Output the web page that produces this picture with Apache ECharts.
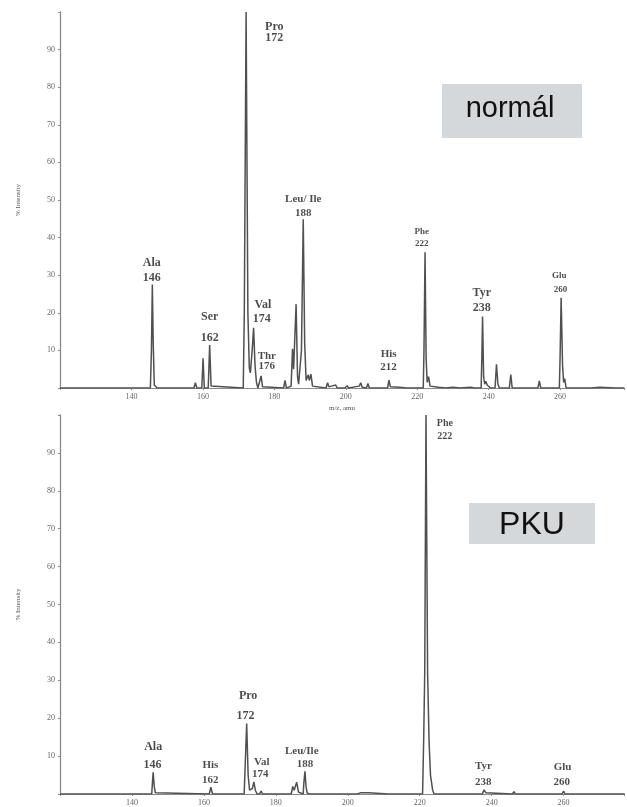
<!DOCTYPE html>
<html>
<head>
<meta charset="utf-8">
<script src="https://cdn.jsdelivr.net/npm/echarts@6/dist/echarts.min.js"></script>
<style>
html,body{margin:0;padding:0;background:#fff;}
#chart{width:627px;height:807px;}
</style>
</head>
<body>
<div id="chart"></div>
<script>
// ---- Data (m/z, % intensity) ----
const normalSpectrum = [
[120,0],[145.3,0],[145.6,10],[145.85,27.5],[146.1,12],[146.4,0.8],[146.8,0.5],[147.2,0],
[157.5,0],[157.9,1.4],[158.3,0],
[159.7,0],[160.05,7.9],[160.4,0],
[161.5,0],[161.9,11.4],[162.3,0.5],[162.6,0],
[171.3,0],[171.6,20],[172.1,100],[172.6,20],[173.0,5.3],[173.3,4.0],[173.8,10],[174.2,16],[174.6,6],[175.0,1.5],[175.4,0],
[175.9,0.5],[176.3,3.2],[176.7,0.3],[177.1,0],
[182.6,0],[183.0,2],[183.4,0],
[184.7,0.5],[185.1,10.4],[185.4,5],[186.1,22.3],[186.5,3],[186.8,1],
[187.3,1],[187.6,10],[188.1,44.9],[188.5,12],[188.9,2],[189.5,3.5],[189.8,2],[190.25,3.7],[190.7,0.5],[191.1,0],
[194.5,0],[194.9,1.4],[195.3,0.3],[196.0,0.5],[196.3,0],[197.2,0.8],[197.6,0],
[199.0,0],[199.3,0.4],[199.7,0],[200.4,0.6],[200.8,0],[202.5,0.3],[203.0,0],[203.8,0.5],[204.2,1.4],[204.6,0.2],[205.8,0],[206.2,1.2],[206.6,0],
[211.7,0],[212.1,2.1],[212.5,0.3],[213,0.2],[215,0.2],[217,0],
[221.7,0],[221.9,10],[222.2,36.1],[222.5,8],[222.8,1.5],[223.2,3],[223.6,0.5],[224,0],[226,0.2],[228,0],[230,0.2],[232,0],[235,0.2],[236,0],
[237.9,0],[238.1,8],[238.3,19],[238.6,3],[238.9,1],[239.2,1.8],[239.6,0.8],[240.1,1],[240.5,0],
[241.8,0],[242.2,6.3],[242.6,1],[243,0],
[245.8,0],[246.2,3.6],[246.6,0],
[253.8,0],[254.2,1.9],[254.6,0],
[259.8,0],[260.0,8],[260.3,24],[260.7,6],[261.0,1.5],[261.3,2.5],[261.7,0],
[268,0],[268.3,0.3],[268.6,0],[271,0.2],[271.5,0],[275.5,0],[275.8,0.3],[276.2,0],[278,0]
];

const pkuSpectrum = [
[120,0],[145.5,0],[145.7,3],[145.9,5.7],[146.2,2],[146.5,0.3],[146.9,0],
[161.5,0],[161.95,1.8],[162.4,0],
[171.2,0],[171.5,8],[171.9,18.6],[172.3,5],[172.7,1],[173.1,0.5],[173.5,1.5],[173.9,3.2],[174.3,1],[174.8,0],[175.5,0],[175.9,0.8],[176.3,0],
[182.7,0],[182.9,0.3],[183.2,0],
[184.3,0],[184.7,2.0],[185.1,1],[185.8,3.1],[186.3,0.5],[186.8,0],
[187.6,0],[187.8,3],[188.1,6.0],[188.4,2],[188.7,0.3],[189.3,0],
[194.7,0],[195.0,0.3],[195.3,0],[202.7,0],[202.9,0.3],[203.5,0.3],[204.2,0.3],[205.0,0.3],[205.7,0.3],[206,0],
[211.3,0],[211.6,0.3],[211.9,0],[214.8,0],[215.1,0.3],[215.4,0],
[220.8,0],[221.1,14],[221.4,32],[221.75,100],[222.2,32],[222.6,14],[223.0,5],[223.6,1],[224.0,0],
[237.4,0],[237.9,1.1],[238.4,0.3],[238.8,0],
[245.8,0],[246.2,0.6],[246.6,0],
[259.6,0],[260.0,0.8],[260.4,0],[277,0]
];

// peak annotation texts
const normalNames  = ['Ala','Ser','Pro','Val','Thr','Leu/ Ile','His','Phe','Tyr','Glu'];
const normalMasses = ['146','162','172','174','176','188','212','222','238','260'];
const pkuNames  = ['Ala','His','Pro','Val','Leu/Ile','Phe','Tyr','Glu'];
const pkuMasses = ['146','162','172','174','188','222','238','260'];

const xTickValues = [140,160,180,200,220,240,260];
const yTickValues = [10,20,30,40,50,60,70,80,90];

// ---- Layout: annotation anchor positions (data units) and font sizes ----
const normalNamePos = [[145.7,33.3],[161.9,18.8],[180.0,96.1],[176.8,22.1],[177.9,8.6],[188.1,50.3],[212.0,9.0],[221.3,41.6],[238.1,25.3],[259.8,29.8]];
const normalMassPos = [[145.7,29.3],[161.9,13.2],[180.0,93.0],[176.5,18.3],[177.9,5.9],[188.1,46.6],[212.0,5.5],[221.3,38.5],[238.1,21.4],[260.1,26.1]];
const normalFont = [12,12,12,12,11,11,11,9,12,9];
const pkuNamePos = [[145.9,12.4],[161.8,7.7],[172.3,25.9],[176.1,8.3],[187.2,11.4],[227.0,97.8],[237.7,7.4],[259.7,7.0]];
const pkuMassPos = [[145.7,7.6],[161.8,3.7],[171.6,20.6],[175.7,5.3],[188.1,7.9],[227.0,94.3],[237.7,3.2],[259.5,3.1]];
const pkuFont = [12,11,12,11,11,10,11,11];

function textSeries(names, pos, fonts, axisIdx) {
  return {
    type: 'scatter', xAxisIndex: axisIdx, yAxisIndex: axisIdx,
    symbolSize: 0, silent: true, z: 5,
    data: names.map((n, i) => ({
      value: pos[i],
      label: {
        show: true, position: 'inside', formatter: n,
        fontFamily: 'Liberation Serif', fontWeight: 'bold',
        fontSize: fonts[i], color: '#1e1e1e'
      }
    }))
  };
}

const axisGrey = '#8a8a8a';
function xAxisCfg(idx, max, withName) {
  return {
    type: 'value', gridIndex: idx, min: 120, max: max, interval: 20,
    axisLine: { show: true, onZero: false, lineStyle: { color: axisGrey, width: 1 } },
    axisTick: { show: true, length: 2, lineStyle: { color: axisGrey } },
    splitLine: { show: false },
    axisLabel: {
      fontSize: 8, color: '#666', margin: 5, fontFamily: 'Liberation Serif',
      formatter: v => xTickValues.includes(v) ? String(v) : ''
    },
    name: withName ? 'm/z, amu' : '',
    nameLocation: 'middle', nameGap: 17,
    nameTextStyle: { fontSize: 7, color: '#555', fontFamily: 'Liberation Serif' }
  };
}
function yAxisCfg(idx) {
  return {
    type: 'value', gridIndex: idx, min: 0, max: 100, interval: 10,
    axisLine: { show: true, lineStyle: { color: axisGrey, width: 1.3 } },
    axisTick: { show: true, length: 2, lineStyle: { color: axisGrey } },
    splitLine: { show: false },
    axisLabel: {
      fontSize: 8, color: '#666', margin: 5, fontFamily: 'Liberation Serif',
      formatter: v => yTickValues.includes(v) ? String(v) : ''
    },
    name: '% Intensity', nameLocation: 'middle', nameGap: 38,
    nameTextStyle: { fontSize: 7, color: '#555', fontFamily: 'Liberation Serif' }
  };
}

const chart = echarts.init(document.getElementById('chart'), null, { renderer: 'canvas' });
chart.setOption({
  backgroundColor: '#ffffff',
  animation: false,
  grid: [
    { left: 60, top: 12, width: 567, height: 376 },
    { left: 60, top: 415, width: 567, height: 380 }
  ],
  xAxis: [xAxisCfg(0, 277.9, true), xAxisCfg(1, 276.8, false)],
  yAxis: [yAxisCfg(0), yAxisCfg(1)],
  series: [
    { type: 'line', xAxisIndex: 0, yAxisIndex: 0, data: normalSpectrum, showSymbol: false,
      lineStyle: { color: '#505050', width: 1.5 }, silent: true },
    { type: 'line', xAxisIndex: 1, yAxisIndex: 1, data: pkuSpectrum, showSymbol: false,
      lineStyle: { color: '#505050', width: 1.5 }, silent: true },
    textSeries(normalNames, normalNamePos, normalFont, 0),
    textSeries(normalMasses, normalMassPos, normalFont, 0),
    textSeries(pkuNames, pkuNamePos, pkuFont, 1),
    textSeries(pkuMasses, pkuMassPos, pkuFont, 1)
  ],
  graphic: [
    { type: 'rect', shape: { x: 442, y: 84, width: 140, height: 54 }, style: { fill: '#d5d8db' } },
    { type: 'text', x: 510, y: 109, style: { text: 'normál', fontFamily: 'Liberation Sans', fontSize: 29, fill: '#111', align: 'center', verticalAlign: 'middle' } },
    { type: 'rect', shape: { x: 469, y: 503, width: 126, height: 41 }, style: { fill: '#d5d8db' } },
    { type: 'text', x: 532, y: 525, style: { text: 'PKU', fontFamily: 'Liberation Sans', fontSize: 32, fill: '#111', align: 'center', verticalAlign: 'middle' } }
  ]
});
</script>
</body>
</html>
